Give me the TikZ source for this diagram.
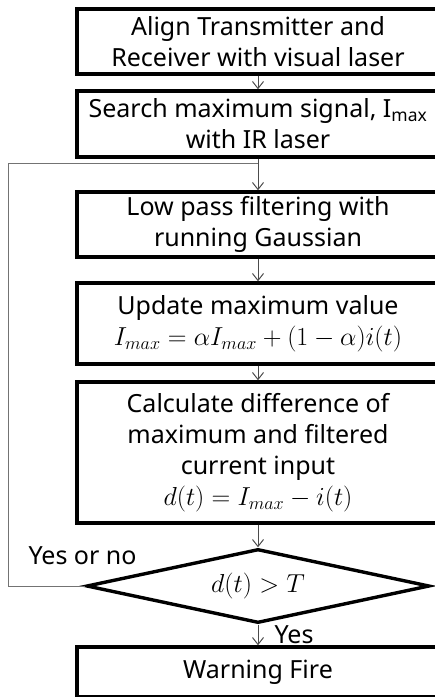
\RequirePackage{fix-cm}
\documentclass[tikz,border=0pt]{standalone}
\usepackage{fontspec}
\setmainfont{Noto Sans}
\usetikzlibrary{arrows.meta,shapes.geometric}
\newcommand\mathline[1]{{\fontsize{26}{31}\selectfont$#1$}}
\tikzset{
  stepbox/.style={draw, line width=3.4pt, minimum width=362pt, align=center, inner sep=0pt, font=\fontsize{25}{31}\selectfont},
  decision/.style={draw, diamond, line width=3.4pt, minimum width=343pt, minimum height=74pt, aspect=4.6, inner sep=0pt},
  flow/.style={draw=black!70, line width=1pt, -{Straight Barb[length=7pt,width=11pt]}},
  loopline/.style={draw=black!55, line width=1pt},
  tag/.style={anchor=base, inner sep=0pt, font=\fontsize{25}{31}\selectfont}
}

\begin{document}
\begin{tikzpicture}[x=1pt,y=-1pt]
  %%%%% START %%%%%
  \useasboundingbox (0,0) rectangle (435,697);
  \clip (0,0) rectangle (435,697);

  \node[stepbox, minimum height=65pt] (align) at (258,41.5) {Align Transmitter and\\Receiver with visual laser};
  \node[stepbox, minimum height=66pt] (search) at (258,124) {Search maximum signal, I\textsubscript{max}\\with IR laser};
  \node[stepbox, minimum height=65pt] (lowpass) at (258,224.5) {Low pass filtering with\\running Gaussian};
  \node[stepbox, minimum height=81pt] (update) at (258,323.5) {Update maximum value\\\mathline{I_{max}=\alpha I_{max}+(1-\alpha)i(t)}};
  \node[stepbox, minimum height=141pt] (calc) at (258,452.5) {Calculate difference of\\maximum and filtered\\current input\\\mathline{d(t)=I_{max}-i(t)}};
  \node[decision] (test) at (258,586) {\mathline{d(t)>T}};
  \node[stepbox, minimum height=50pt] (warn) at (258,672) {Warning Fire};

  \node[tag] (yesno) at (82.5,564) {Yes or no};
  \node[tag] (yes) at (294,643) {Yes};

  \coordinate (corner) at (8,163);
  \coordinate (join) at (258,163);

  \draw[flow] (align.south) -- (search.north);
  \draw[flow] (search.south) -- (lowpass.north);
  \draw[flow] (lowpass.south) -- (update.north);
  \draw[flow] (update.south) -- (calc.north);
  \draw[flow] (calc.south) -- (test.north);
  \draw[flow] (test.south) -- (warn.north);
  \draw[loopline] (test.west) -| (corner) -- (join);
  %%%%% END %%%%%
\end{tikzpicture}
\end{document}
